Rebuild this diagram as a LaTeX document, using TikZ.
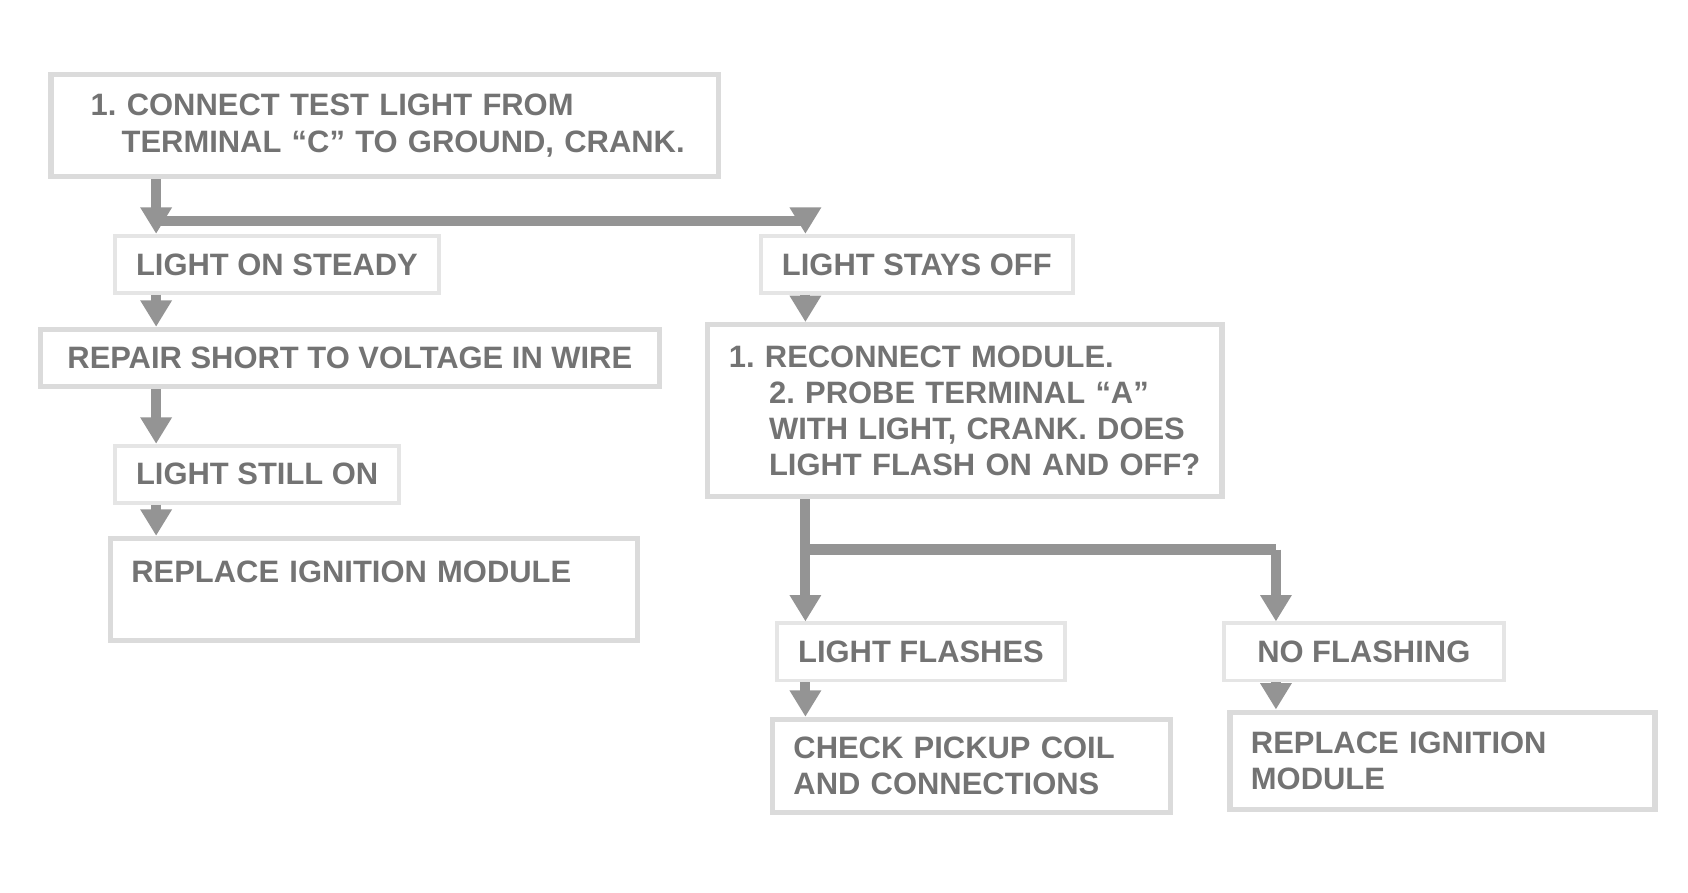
\documentclass[tikz,border=0pt]{standalone}
\usepackage{fontspec}
\setsansfont{Liberation Sans}
\usepackage{xcolor}
\usetikzlibrary{positioning, arrows.meta}

\tikzset{
  chkbox/.style={draw=black!14, line width=1.5pt, align=left, anchor=west,
    inner xsep=6pt, inner ysep=5pt, text=black!55,
    font=\sffamily\bfseries\fontsize{8.8}{10.3}\selectfont\frenchspacing},
  ansbox/.style={chkbox, draw=black!10, line width=1.1pt},
  flow/.style={line width=2.8pt, draw=black!42, -{Triangle[length=7.5pt,width=8.5pt]}},
  trunk/.style={line width=3pt, draw=black!42}
}

\begin{document}
\begin{tikzpicture}[scale=1.0765]
 \useasboundingbox (0,0) rectangle (15.68,8.286);

 % columns of the flow lines
 \coordinate (colA) at (1.45,0);
 \coordinate (colB) at (7.48,0);
 \coordinate (colC) at (11.85,0);

 % first check
 \node[chkbox, text width=6.25cm, minimum height=1.02cm] (start) at (0.45,7.12)
   {\hspace*{0.6em}1. CONNECT TEST LIGHT FROM\\
    \hspace*{1.6em}TERMINAL ``C'' TO GROUND, CRANK.};

 % left branch
 \node[ansbox, minimum width=2.75cm] (lon) at (1.05,5.83) {LIGHT ON STEADY};
 \node[chkbox, minimum width=6.19cm] (lrep) at (0.35,4.96) {REPAIR SHORT TO VOLTAGE IN WIRE};
 \node[ansbox, minimum width=2.75cm] (lstill) at (1.05,3.88) {LIGHT STILL ON};
 \node[chkbox, text width=4.85cm, minimum height=1.02cm] (lmod) at (1.0,2.81)
   {REPLACE IGNITION MODULE\\ \mbox{}};

 % right branch
 \node[ansbox, minimum width=2.8cm] (roff) at (7.05,5.83) {LIGHT STAYS OFF};
 \node[chkbox, text width=4.72cm, minimum height=1.72cm] (rchk) at (6.55,4.47)
   {1. RECONNECT MODULE.\\
    \hspace*{1.3em}2. PROBE TERMINAL ``A''\\
    \hspace*{1.3em}WITH LIGHT, CRANK. DOES\\
    \hspace*{1.3em}LIGHT FLASH ON AND OFF?};
 \node[ansbox, minimum width=2.8cm] (rflash) at (7.2,2.23) {LIGHT FLASHES};
 \node[chkbox, text width=3.56cm, minimum height=0.92cm] (rcoil) at (7.15,1.17)
   {CHECK PICKUP COIL\\ AND CONNECTIONS};
 \node[ansbox, minimum width=2.8cm] (rnone) at (11.35,2.23) {NO FLASHING};
 \node[chkbox, text width=3.83cm, minimum height=0.97cm] (rnew) at (11.4,1.22)
   {REPLACE IGNITION\\ MODULE};

 % split points
 \coordinate (sp1) at (1.45,6.23);
 \coordinate (sp2) at (7.48,3.18);

 \draw[flow] (start.south -| colA) -- (lon.north -| colA);
 \draw[trunk] (sp1) -- (sp1 -| colB);
 \draw[flow] (sp1 -| colB) -- (roff.north -| colB);
 \draw[flow] (lon.south -| colA) -- (lrep.north -| colA);
 \draw[flow] (lrep.south -| colA) -- (lstill.north -| colA);
 \draw[flow] (lstill.south -| colA) -- (lmod.north -| colA);
 \draw[flow] (roff.south -| colB) -- (rchk.north -| colB);
 \draw[flow] (rchk.south -| colB) -- (rflash.north -| colB);
 \draw[trunk] (sp2) -- (sp2 -| colC);
 \draw[flow] (sp2 -| colC) -- (rnone.north -| colC);
 \draw[flow] (rflash.south -| colB) -- (rcoil.north -| colB);
 \draw[flow] (rnone.south -| colC) -- (rnew.north -| colC);
\end{tikzpicture}
\end{document}
